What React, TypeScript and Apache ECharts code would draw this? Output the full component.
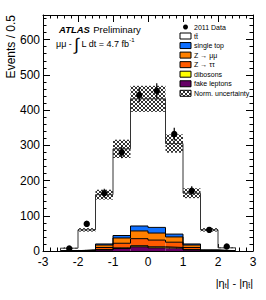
import React, { useEffect, useRef } from 'react';
import * as echarts from 'echarts';

const binEdges = [-2.5, -2, -1.5, -1, -0.5, 0, 0.5, 1, 1.5, 2, 2.5];
const ttbar = [7, 57, 140, 246, 361, 365, 257, 144, 57, 8];
const singleTop = [0.3, 0.5, 3, 7, 14, 16, 8, 3, 0.5, 0.3];
const zMuMu = [0.2, 0.8, 7, 15, 22, 20, 15, 7, 0.8, 0.2];
const zTauTau = [0.2, 0.8, 6, 13, 20, 19, 15, 6, 0.8, 0.2];
const dibosons = [0.1, 0.3, 1, 2, 3, 3, 2, 1, 0.3, 0.1];
const fakeLeptons = [0.2, 0.6, 3, 7, 12, 9, 8, 3, 0.6, 0.2];
const dataValues = [7, 77, 164, 280, 443, 455, 332, 171, 60, 13];
const dataErrors = [2.6, 8.8, 12.8, 16.7, 21, 21.3, 18.2, 13.1, 7.7, 3.6];
const normUnc = [1, 5, 14, 26, 37, 37, 26, 14, 5, 1];

const FONT = '"Liberation Sans", Arial, Helvetica, sans-serif';

export default function App() {
  const ref = useRef<HTMLDivElement>(null);
  useEffect(() => {
    document.body.style.margin = '0';
    const chart = echarts.init(ref.current!, null, { renderer: 'svg' });

    const cv = document.createElement('canvas');
    cv.width = 4;
    cv.height = 4;
    const ctx = cv.getContext('2d')!;
    ctx.fillStyle = '#333';
    [[0, 0], [1, 1], [2, 2], [3, 3], [3, 0], [2, 1], [1, 2], [0, 3]].forEach(([a, b]) => ctx.fillRect(a, b, 1, 1));
    const hatch: any = { image: cv, repeat: 'repeat', imageWidth: 4, imageHeight: 4 };

    // stack bottom -> top
    const comps = [
      { name: 'fake leptons', vals: fakeLeptons, color: '#660066' },
      { name: 'dibosons', vals: dibosons, color: '#ffff00' },
      { name: 'Z→ττ', vals: zTauTau, color: '#ff5a00' },
      { name: 'Z→μμ', vals: zMuMu, color: '#ff8000' },
      { name: 'single top', vals: singleTop, color: '#1070ff' },
      { name: 'tt', vals: ttbar, color: '#ffffff' },
    ];
    const nb = binEdges.length - 1;
    const cum: number[][] = [];
    comps.forEach((c, k) => {
      cum.push(c.vals.map((v, i) => v + (k > 0 ? cum[k - 1][i] : 0)));
    });
    const total = cum[cum.length - 1];

    const rectRender = (fill: any) => (params: any, api: any) => {
      const p0 = api.coord([api.value(0), api.value(3)]);
      const p1 = api.coord([api.value(1), api.value(2)]);
      return {
        type: 'rect',
        shape: { x: p0[0], y: p0[1], width: p1[0] - p0[0], height: p1[1] - p0[1] },
        style: { fill, stroke: null },
      };
    };

    const series: any[] = [];
    comps.forEach((c, k) => {
      const rows = [];
      for (let i = 0; i < nb; i++) {
        rows.push([binEdges[i], binEdges[i + 1], k > 0 ? cum[k - 1][i] : 0, cum[k][i]]);
      }
      series.push({
        type: 'custom', renderItem: rectRender(c.color), data: rows, z: 2, silent: true,
      });
    });
    comps.forEach((c, k) => {
      const pts: number[][] = [[binEdges[0], 0]];
      for (let i = 0; i < nb; i++) pts.push([binEdges[i], cum[k][i]]);
      pts.push([binEdges[nb], cum[k][nb - 1]]);
      pts.push([binEdges[nb], 0]);
      series.push({
        type: 'line', step: 'end', data: pts, symbol: 'none', z: 3, silent: true,
        lineStyle: { color: k === comps.length - 1 ? '#333' : '#000', width: 1 },
      });
    });
    const bandRows = [];
    for (let i = 0; i < nb; i++) {
      bandRows.push([binEdges[i], binEdges[i + 1], total[i] - normUnc[i], total[i] + normUnc[i]]);
    }
    series.push({ type: 'custom', renderItem: rectRender(hatch), data: bandRows, z: 4, silent: true });

    const dataRows = dataValues.map((v, i) => [(binEdges[i] + binEdges[i + 1]) / 2, v, dataErrors[i]]);
    series.push({
      type: 'custom', z: 5, silent: true, data: dataRows,
      renderItem: (params: any, api: any) => {
        const x = api.value(0), v = api.value(1), e = api.value(2);
        const c = api.coord([x, v]);
        const lo = api.coord([x, v - e]);
        const hi = api.coord([x, v + e]);
        return {
          type: 'group',
          children: [
            { type: 'line', shape: { x1: lo[0], y1: lo[1], x2: hi[0], y2: hi[1] }, style: { stroke: '#000', lineWidth: 1.2 } },
            { type: 'circle', shape: { cx: c[0], cy: c[1], r: 3.2 }, style: { fill: '#000' } },
          ],
        };
      },
    });

    const axisCommon = {
      axisLine: { show: true, onZero: false, lineStyle: { color: '#000', width: 1 } },
      axisTick: { show: true, inside: true, length: 7, lineStyle: { color: '#000' } },
      minorTick: { show: true, splitNumber: 5, length: 3.5, lineStyle: { color: '#000' } },
      splitLine: { show: false },
    };

    const legendRows = [
      { label: 'tt̄', fill: '#ffffff' },
      { label: 'single top', fill: '#1070ff' },
      { label: 'Z → μμ', fill: '#ff8000' },
      { label: 'Z → ττ', fill: '#ff5a00' },
      { label: 'dibosons', fill: '#ffff00' },
      { label: 'fake leptons', fill: '#660066' },
      { label: 'Norm. uncertainty', fill: hatch },
    ];
    const graphics: any[] = [
      {
        type: 'text', x: 11, y: 15, rotation: Math.PI / 2,
        style: { text: 'Events / 0.5', fontSize: 12, fontFamily: FONT, fill: '#000', align: 'right', verticalAlign: 'middle' },
      },
      {
        type: 'text', x: 59, y: 29.5,
        style: {
          text: '{b|ATLAS} {n|Preliminary}', verticalAlign: 'middle',
          rich: {
            b: { fontSize: 9.5, lineHeight: 10, fontWeight: 'bold', fontStyle: 'italic', fontFamily: FONT, fill: '#000' },
            n: { fontSize: 9.5, lineHeight: 10, fontFamily: FONT, fill: '#000' },
          },
        },
      },
      {
        type: 'text', x: 56, y: 44,
        style: {
          text: '{n|μμ - }{i|∫}{n| L dt = 4.7 fb}{s|-1}', verticalAlign: 'middle',
          rich: {
            n: { fontSize: 9, lineHeight: 14, fontFamily: FONT, fill: '#000' },
            i: { fontSize: 17, lineHeight: 14, fontFamily: FONT, fill: '#000' },
            s: { fontSize: 6, lineHeight: 6, fontFamily: FONT, fill: '#000', verticalAlign: 'top' },
          },
        },
      },
      {
        type: 'text', x: 253, y: 283,
        style: {
          text: '{n||η}{s|t}{n|| - |η}{s|t̄}{n||}', align: 'right', verticalAlign: 'middle',
          rich: {
            n: { fontSize: 11, fontFamily: FONT, fill: '#000' },
            s: { fontSize: 7, fontFamily: FONT, fill: '#000', verticalAlign: 'bottom' },
          },
        },
      },
      { type: 'circle', shape: { cx: 185.5, cy: 27, r: 2.5 }, style: { fill: '#000' } },
      {
        type: 'text', x: 194, y: 27,
        style: { text: '2011 Data', fontSize: 7, fontFamily: FONT, fill: '#000', verticalAlign: 'middle' },
      },
    ];
    legendRows.forEach((r, i) => {
      const cy = 36 + i * 9.55;
      graphics.push({
        type: 'rect', shape: { x: 180, y: cy - 3, width: 11, height: 6 },
        style: { fill: r.fill, stroke: '#000', lineWidth: 1 },
      });
      graphics.push({
        type: 'text', x: 194, y: cy,
        style: { text: r.label, fontSize: 7, fontFamily: FONT, fill: '#000', verticalAlign: 'middle' },
      });
    });

    chart.setOption({
      animation: false,
      textStyle: { fontFamily: FONT },
      grid: { left: 43, right: 13, top: 15, bottom: 49 },
      xAxis: [
        {
          type: 'value', min: -3, max: 3, interval: 1, position: 'bottom', ...axisCommon,
          axisLabel: { color: '#000', fontSize: 12, margin: 5, fontFamily: FONT, formatter: (v: number) => String(Math.round(v)) },
        },
        {
          type: 'value', min: -3, max: 3, interval: 1, position: 'top', ...axisCommon,
          axisLabel: { show: false },
        },
      ],
      yAxis: [
        {
          type: 'value', min: 0, max: 670, interval: 100, position: 'left', ...axisCommon,
          axisLabel: {
            color: '#000', fontSize: 12, margin: 3, fontFamily: FONT,
            formatter: (v: number) => (v % 100 === 0 ? String(v) : ''),
          },
        },
        {
          type: 'value', min: 0, max: 670, interval: 100, position: 'right', ...axisCommon,
          axisLabel: { show: false },
        },
      ],
      series,
      graphic: graphics,
    });

    return () => chart.dispose();
  }, []);
  return <div ref={ref} style={{ width: 266, height: 300 }} />;
}
